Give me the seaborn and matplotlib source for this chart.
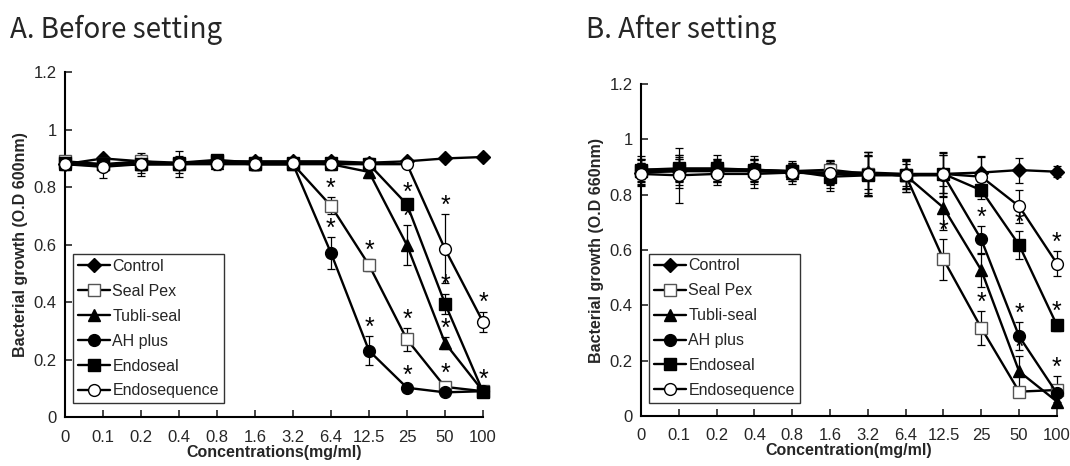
import matplotlib
matplotlib.use('Agg')
import matplotlib.pyplot as plt
import seaborn as sns
from matplotlib.ticker import FormatStrFormatter

# Concentration categories (mg/ml)
conc = ['0', '0.1', '0.2', '0.4', '0.8', '1.6', '3.2', '6.4', '12.5', '25', '50', '100']
series = ['Control', 'Seal Pex', 'Tubli-seal', 'AH plus', 'Endoseal', 'Endosequence']

# A. Before setting (O.D 600nm)
a_control = [0.88, 0.90, 0.89, 0.885, 0.89, 0.89, 0.89, 0.89, 0.885, 0.89, 0.90, 0.905]
a_sealpex = [0.89, 0.88, 0.89, 0.88, 0.89, 0.88, 0.88, 0.735, 0.529, 0.27, 0.105, 0.09]
a_tubli = [0.88, 0.88, 0.88, 0.88, 0.885, 0.88, 0.88, 0.88, 0.853, 0.598, 0.258, 0.09]
a_ahplus = [0.88, 0.875, 0.88, 0.88, 0.885, 0.88, 0.88, 0.571, 0.231, 0.102, 0.086, 0.09]
a_endoseal = [0.885, 0.88, 0.88, 0.885, 0.895, 0.885, 0.885, 0.885, 0.88, 0.74, 0.395, 0.088]
a_endoseq = [0.88, 0.871, 0.88, 0.88, 0.88, 0.88, 0.885, 0.88, 0.88, 0.88, 0.585, 0.331]

a_control_err = [0.01, 0.01, 0.01, 0.01, 0.01, 0.01, 0.01, 0.01, 0.01, 0.01, 0.01, 0.01]
a_sealpex_err = [0.02, 0.01, 0.02, 0.01, 0.02, 0.02, 0.01, 0.03, 0.02, 0.04, 0.015, 0.015]
a_tubli_err = [0.01, 0.01, 0.02, 0.02, 0.01, 0.02, 0.01, 0.01, 0.02, 0.07, 0.02, 0.01]
a_ahplus_err = [0.01, 0.02, 0.03, 0.03, 0.01, 0.02, 0.01, 0.055, 0.05, 0.01, 0.01, 0.01]
a_endoseal_err = [0.01, 0.01, 0.02, 0.02, 0.01, 0.02, 0.01, 0.01, 0.02, 0.01, 0.035, 0.01]
a_endoseq_err = [0.02, 0.04, 0.04, 0.045, 0.02, 0.02, 0.01, 0.02, 0.02, 0.01, 0.12, 0.035]

# significance marks (1 = asterisk above the point)
a_sealpex_sig = [0, 0, 0, 0, 0, 0, 0, 1, 1, 1, 1, 0]
a_tubli_sig = [0, 0, 0, 0, 0, 0, 0, 0, 0, 1, 1, 0]
a_ahplus_sig = [0, 0, 0, 0, 0, 0, 0, 1, 1, 1, 0, 0]
a_endoseal_sig = [0, 0, 0, 0, 0, 0, 0, 0, 0, 1, 1, 1]
a_endoseq_sig = [0, 0, 0, 0, 0, 0, 0, 0, 0, 0, 1, 1]

# B. After setting (O.D 660nm)
b_control = [0.88, 0.885, 0.885, 0.885, 0.88, 0.88, 0.88, 0.875, 0.875, 0.88, 0.889, 0.883]
b_sealpex = [0.885, 0.89, 0.89, 0.885, 0.885, 0.89, 0.875, 0.87, 0.566, 0.318, 0.088, 0.094]
b_tubli = [0.885, 0.885, 0.89, 0.89, 0.88, 0.875, 0.875, 0.87, 0.753, 0.527, 0.161, 0.052]
b_ahplus = [0.89, 0.89, 0.89, 0.89, 0.885, 0.875, 0.875, 0.87, 0.87, 0.638, 0.288, 0.082]
b_endoseal = [0.89, 0.895, 0.895, 0.89, 0.885, 0.865, 0.87, 0.87, 0.875, 0.816, 0.618, 0.328]
b_endoseq = [0.875, 0.87, 0.875, 0.875, 0.88, 0.88, 0.875, 0.87, 0.875, 0.865, 0.758, 0.551]

b_control_err = [0.05, 0.05, 0.04, 0.04, 0.03, 0.04, 0.06, 0.05, 0.07, 0.06, 0.045, 0.02]
b_sealpex_err = [0.03, 0.04, 0.03, 0.03, 0.02, 0.03, 0.07, 0.04, 0.075, 0.06, 0.01, 0.05]
b_tubli_err = [0.04, 0.06, 0.04, 0.04, 0.03, 0.05, 0.08, 0.05, 0.08, 0.06, 0.055, 0.02]
b_ahplus_err = [0.04, 0.04, 0.04, 0.05, 0.03, 0.04, 0.08, 0.06, 0.08, 0.05, 0.05, 0.03]
b_endoseal_err = [0.05, 0.05, 0.05, 0.04, 0.03, 0.05, 0.07, 0.05, 0.08, 0.03, 0.05, 0.02]
b_endoseq_err = [0.04, 0.10, 0.04, 0.05, 0.04, 0.04, 0.08, 0.06, 0.07, 0.07, 0.06, 0.045]

b_sealpex_sig = [0, 0, 0, 0, 0, 0, 0, 0, 1, 1, 0, 1]
b_tubli_sig = [0, 0, 0, 0, 0, 0, 0, 0, 0, 0, 1, 0]
b_ahplus_sig = [0, 0, 0, 0, 0, 0, 0, 0, 0, 1, 1, 0]
b_endoseal_sig = [0, 0, 0, 0, 0, 0, 0, 0, 0, 0, 1, 1]
b_endoseq_sig = [0, 0, 0, 0, 0, 0, 0, 0, 0, 0, 0, 1]
no_sig = [0] * 12

sns.set_style('white')
plt.rcParams['font.family'] = ['Liberation Sans', 'DejaVu Sans']

# marker style per series: (marker, facecolor, edgecolor, size)
styles = {
    'Control': ('D', 'black', 'black', 7),
    'Seal Pex': ('s', 'white', '#555555', 8),
    'Tubli-seal': ('^', 'black', 'black', 8.5),
    'AH plus': ('o', 'black', 'black', 8.5),
    'Endoseal': ('s', 'black', 'black', 8),
    'Endosequence': ('o', 'white', 'black', 8.5),
}

pos = list(range(len(conc)))


def draw_panel(ax, vals, errs, sigs, ylabel, xlabel):
    for name, v, e, s in zip(series, vals, errs, sigs):
        m, fc, ec, ms = styles[name]
        ax.errorbar(pos, v, yerr=e, fmt='none', ecolor='black', elinewidth=0.9,
                    capsize=3, capthick=0.9, clip_on=False, zorder=2)
        sns.lineplot(x=pos, y=v, ax=ax, color='black', linewidth=1.7, marker=m,
                     markersize=ms, markerfacecolor=fc, markeredgecolor=ec,
                     markeredgewidth=1.0, label=name, clip_on=False, zorder=3)
        for i in pos:
            if s[i]:
                ax.text(i, v[i] + e[i] + 0.03, '*', ha='center', va='center',
                        fontsize=18, color='black')
    ax.set_xlim(0, len(conc) - 1)
    ax.set_ylim(0, 1.2)
    ax.set_xticks(pos)
    ax.set_xticklabels(conc)
    ax.set_yticks([0, 0.2, 0.4, 0.6, 0.8, 1.0, 1.2])
    ax.yaxis.set_major_formatter(FormatStrFormatter('%g'))
    ax.tick_params(direction='in', length=5, width=1.2, labelsize=12,
                   left=True, bottom=True, pad=6)
    ax.tick_params(axis='x', pad=9)
    for side in ['top', 'right']:
        ax.spines[side].set_visible(False)
    for side in ['left', 'bottom']:
        ax.spines[side].set_color('black')
        ax.spines[side].set_linewidth(1.5)
    ax.set_ylabel(ylabel, fontsize=11.5, fontweight='bold', labelpad=4)
    ax.set_xlabel(xlabel, fontsize=11.5, fontweight='bold', labelpad=0)
    leg = ax.legend(loc='lower left', bbox_to_anchor=(0.02, 0.04), frameon=True,
                    fancybox=False, edgecolor='black', fontsize=11.5,
                    handlelength=2.0, handletextpad=0.15, labelspacing=0.62,
                    borderpad=0.3, borderaxespad=0)
    leg.get_frame().set_linewidth(1.0)


fig = plt.figure(figsize=(10.7, 4.66), dpi=100)
ax1 = fig.add_axes([0.0607, 0.105, 0.3907, 0.740])
ax2 = fig.add_axes([0.599, 0.1073, 0.3888, 0.7124])

draw_panel(ax1,
           [a_control, a_sealpex, a_tubli, a_ahplus, a_endoseal, a_endoseq],
           [a_control_err, a_sealpex_err, a_tubli_err, a_ahplus_err, a_endoseal_err, a_endoseq_err],
           [no_sig, a_sealpex_sig, a_tubli_sig, a_ahplus_sig, a_endoseal_sig, a_endoseq_sig],
           'Bacterial growth (O.D 600nm)', 'Concentrations(mg/ml)')
draw_panel(ax2,
           [b_control, b_sealpex, b_tubli, b_ahplus, b_endoseal, b_endoseq],
           [b_control_err, b_sealpex_err, b_tubli_err, b_ahplus_err, b_endoseal_err, b_endoseq_err],
           [no_sig, b_sealpex_sig, b_tubli_sig, b_ahplus_sig, b_endoseal_sig, b_endoseq_sig],
           'Bacterial growth (O.D 660nm)', 'Concentration(mg/ml)')

fig.text(0.009, 0.918, 'A. Before setting', fontsize=20, family=['Noto Sans CJK KR', 'DejaVu Sans'])
fig.text(0.548, 0.918, 'B. After setting', fontsize=20, family=['Noto Sans CJK KR', 'DejaVu Sans'])

fig.savefig('out.png', dpi=100)
